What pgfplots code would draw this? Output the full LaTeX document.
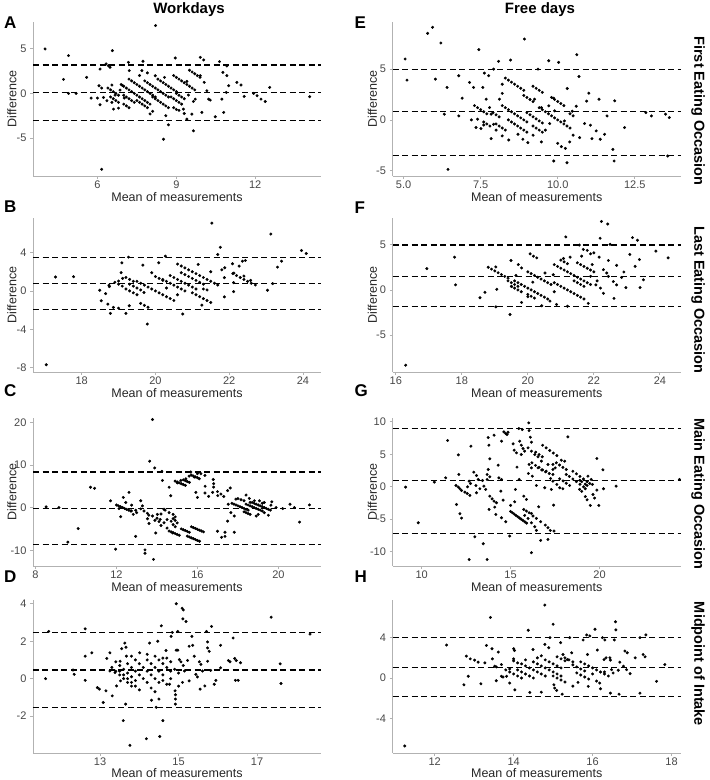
\documentclass[border=0pt]{standalone}
\usepackage{fontspec}
\setmainfont{Liberation Sans}
\usepackage{pgfplots}
\pgfplotsset{compat=1.18}

\newcommand\tickfont{\fontsize{11}{13}\selectfont}
\newcommand\labfont{\fontsize{12.5}{14}\selectfont}
\newcommand\titlefont{\fontsize{15}{17}\selectfont\bfseries}
\newcommand\tagfont{\fontsize{17}{19}\selectfont\bfseries}
\newcommand\stripfont{\fontsize{14.5}{16}\selectfont\bfseries}

\pgfplotsset{
  ba/.style={
    scale only axis, anchor=south west,
    axis x line*=bottom, axis y line*=left,
    axis line style={black!30, line width=0.8pt},
    every tick/.style={black!30, line width=0.8pt},
    major tick length=3pt, tick align=outside,
    ticklabel style={font=\tickfont, text=black!72},
    xticklabel style={yshift=2pt},
    /pgf/number format/assume math mode=true,
    xlabel={Mean of measurements},
    xlabel style={font=\labfont, text=black!85, at={(axis description cs:0.5,0)}, anchor=center, yshift=-21.5pt},
    ylabel style={font=\labfont, text=black!85, at={([xshift=-21pt]axis description cs:0,0.5)}, anchor=center},
  },
  right col/.style={ylabel style={at={([xshift=-20pt]axis description cs:0,0.5)}}},
  bottom row/.style={xlabel style={yshift=1pt}},
  pts/.style={only marks, mark=*, mark size=1.3pt, black},
  lim/.style={black, line width=1.1pt, dash pattern=on 6pt off 3.5pt},
}

\begin{document}
\begin{tikzpicture}[x=1pt,y=1pt]
\path[use as bounding box] (0,0) rectangle (710,780);

% ---------------- A: workdays, first eating occasion
\begin{axis}[ba, at={(33pt,604pt)}, width=288pt, height=154pt,
  xmin=3.55, xmax=14.5, ymin=-9.25, ymax=8.0,
  xtick={6,9,12}, ytick={-5,0,5}, ylabel={Difference}]
\addplot[lim] coordinates {(3.55,3.18) (14.5,3.18)};
\addplot[lim] coordinates {(3.55,0.11) (14.5,0.11)};
\addplot[lim] coordinates {(3.55,-3.0) (14.5,-3.0)};
\addplot[pts] coordinates {
(4.01,4.98)(4.90,4.23)(4.71,1.57)(4.90,0.0)(5.19,0.0)(5.59,1.80)(5.76,-0.52)(6.0,-0.52)
(6.10,2.73)(6.06,0.86)(6.10,-1.27)(6.16,0.60)(6.16,-8.50)(6.33,3.30)(6.48,2.92)(6.57,4.79)
(6.55,0.94)(6.42,3.1)(6.61,-1.76)(6.80,-1.65)(6.23,-0.45)(6.36,-0.82)(7.18,3.48)(7.21,2.55)
(7.73,3.60)(7.69,2.55)(8.21,7.60)(8.20,1.98)(8.55,1.80)(8.51,-5.13)(8.70,-3.52)(8.96,3.97)
(9.91,4.04)(10.04,3.75)(9.91,1.99)(10.06,1.24)(9.97,-2.13)(9.65,-4.19)(9.40,-2.88)(9.27,-1.76)
(9.30,-2.25)(9.59,-2.32)(9.72,-0.64)(9.65,-0.9)(10.23,-0.64)(10.29,-0.75)(10.48,-2.62)(10.80,-2.13)
(10.64,3.56)(10.77,2.36)(10.92,1.99)(10.99,0.86)(10.90,0.11)(10.73,-0.64)(10.92,3.07)(11.30,1.24)
(11.46,0.94)(11.58,-0.34)(11.94,0.0)(12.07,-0.26)(12.22,-0.64)(12.38,-0.90)(12.55,0.67)(14.07,-0.37)
(9.40,1.35)(9.46,-0.19)(10.16,0.30)(6.86,0.37)(7.02,-0.52)(6.67,-0.19)(6.55,-1.0)
(7.6,2.0)(7.9,2.3)(8.0,-2.3)(8.1,-2.0)(8.6,-2.5)(9.1,-1.9)(6.95,0.9)
(6.4,0.6)(6.5,0.4)(6.6,0.2)(6.7,0.0)(6.8,-0.2)
(6.5,-0.4)(6.6,-0.6)(6.7,-0.8)(6.8,-1.0)
(6.9,1.0)(7.0,0.8)(7.1,0.6)(7.2,0.4)(7.3,0.2)(7.4,0.0)
(7.0,-0.2)(7.1,-0.4)(7.2,-0.6)(7.3,-0.8)(7.4,-1.0)
(7.2,1.6)(7.3,1.4)(7.4,1.2)(7.5,1.0)(7.6,0.8)(7.7,0.6)(7.8,0.4)(7.9,0.2)(8.0,0.0)(8.1,-0.2)(8.2,-0.4)
(7.5,-0.2)(7.6,-0.4)(7.7,-0.6)(7.8,-0.8)(7.9,-1.0)(8.0,-1.2)
(7.5,-0.8)(7.6,-1.0)(7.7,-1.2)(7.8,-1.4)(7.9,-1.6)
(7.8,1.4)(7.9,1.2)(8.0,1.0)(8.1,0.8)(8.2,0.6)(8.3,0.4)(8.4,0.2)(8.5,0.0)(8.6,-0.2)(8.7,-0.4)
(8.1,-0.4)(8.2,-0.6)(8.3,-0.8)(8.4,-1.0)(8.5,-1.2)(8.6,-1.4)(8.7,-1.6)
(8.3,1.6)(8.4,1.4)(8.5,1.2)(8.6,1.0)(8.7,0.8)(8.8,0.6)(8.9,0.4)(9.0,0.2)
(8.8,-0.4)(8.9,-0.6)(9.0,-0.8)(9.1,-1.0)(9.2,-1.2)
(8.9,2.0)(9.0,1.8)(9.1,1.6)(9.2,1.4)(9.3,1.2)(9.4,1.0)(9.5,0.8)(9.6,0.6)(9.7,0.4)
(9.5,2.6)(9.6,2.4)(9.7,2.2)(9.8,2.0)(9.9,1.8)
(7.0,-1.2)(7.1,-1.4)(7.2,-1.6)(8.9,-1.6)(9.0,-1.8)
(9.0,0.0)(9.1,-0.2)(9.2,-0.4)(9.3,-0.6)
};
\end{axis}

% ---------------- E: free days, first eating occasion
\begin{axis}[ba, right col, at={(392.5pt,604pt)}, width=288.5pt, height=154pt,
  xmin=4.64, xmax=14.0, ymin=-5.5, ymax=9.6,
  xtick={5,7.5,10,12.5}, xticklabels={5.0,7.5,10.0,12.5}, ytick={-5,0,5},
  ylabel={Difference}]
\addplot[lim] coordinates {(4.64,4.98) (14.0,4.98)};
\addplot[lim] coordinates {(4.64,0.79) (14.0,0.79)};
\addplot[lim] coordinates {(4.64,-3.48) (14.0,-3.48)};
\addplot[pts] coordinates {
(5.05,5.97)(5.11,3.90)(5.78,8.49)(5.94,9.08)(6.21,7.54)(6.03,4.0)(6.32,0.56)(6.41,3.18)
(6.44,-4.85)(6.79,0.39)(6.79,4.33)(6.90,2.13)(7.14,3.67)(7.27,3.18)(7.44,6.89)(7.57,3.18)
(7.62,4.59)(7.76,4.33)(7.92,4.98)(8.08,5.74)(8.47,5.87)(8.92,7.93)(9.36,4.98)(9.71,5.80)
(10.03,5.64)(10.62,6.39)(10.69,4.26)(10.31,3.08)(11.01,2.62)(10.94,1.84)(11.34,2.03)(11.85,1.87)
(11.60,0.39)(12.17,-0.75)(12.86,0.72)(13.04,0.39)(13.50,0.56)(13.62,0.23)(13.57,-3.54)(11.79,-2.89)
(11.83,-4.03)(9.87,-4.03)(10.30,-4.2)(11.11,-1.84)(11.38,-1.90)(11.52,-1.41)(11.25,-1.08)(10.71,-1.74)
(10.87,-0.36)(11.06,-0.52)(10.6,1.34)(10.47,0.85)(10.0,-2.3)(10.12,-2.62)(10.25,-2.79)(10.39,-2.16)
(9.47,-2.16)(9.03,-2.23)(8.87,-1.90)(8.71,-1.41)(8.41,-1.97)(8.20,-1.57)(7.84,-1.84)(7.51,-0.85)
(7.35,-0.75)(7.40,0.07)(7.84,0.56)(7.92,-0.43)(7.79,1.21)(7.68,2.03)(8.11,2.03)(9.47,1.21)
(9.71,1.38)(9.90,0.89)(9.74,-0.36)(10.22,-0.1)(9.87,2.13)(9.25,2.03)(7.2,0.0)(7.6,-0.5)
(8.0,-1.0)(9.6,-1.0)(9.2,-1.5)(10.5,-1.5)(8.2,3.5)(8.2,2.6)
(8.3,4.1)(8.4,3.9)(8.5,3.7)(8.6,3.5)(8.7,3.3)(8.8,3.1)(8.9,2.9)
(9.2,3.3)(9.3,3.1)(9.4,2.9)(9.5,2.7)
(9.4,1.2)(9.5,1.0)(9.6,0.8)(9.7,0.6)(9.8,0.4)(9.9,0.2)(10.0,0.0)(10.1,-0.2)(10.2,-0.4)(10.3,-0.6)(10.4,-0.8)
(8.2,1.4)(8.3,1.2)(8.4,1.0)(8.5,0.8)(8.6,0.6)(8.7,0.4)(8.8,0.2)(8.9,0.0)(9.0,-0.2)
(7.3,1.4)(7.4,1.2)(7.5,1.0)(7.6,0.8)(7.7,0.6)
(8.4,0.0)(8.5,-0.2)(8.6,-0.4)(8.7,-0.6)(8.8,-0.8)(8.9,-1.0)(9.0,-1.2)
(7.9,0.7)(8.0,0.5)(8.1,0.3)
(9.0,0.7)(9.1,0.5)(9.2,0.3)(9.3,0.1)(9.4,-0.1)(9.5,-0.3)
(9.8,2.2)(9.9,2.0)(10.0,1.8)(10.1,1.6)(10.2,1.4)
(8.9,2.4)(9.0,2.2)(9.1,2.0)(9.2,1.8)
(8.0,-0.4)(8.1,-0.6)(8.2,-0.8)(8.3,-1.0)
(9.2,-0.6)(9.3,-0.8)(9.4,-1.0)(9.5,-1.2)
(7.6,-0.2)(7.7,-0.4)(7.8,-0.6)(10.4,0.6)(10.5,0.4)
};
\end{axis}

% ---------------- B: workdays, last eating occasion
\begin{axis}[ba, at={(33pt,408pt)}, width=288pt, height=154pt,
  xmin=16.68, xmax=24.49, ymin=-8.45, ymax=7.6,
  xtick={18,20,22,24}, ytick={-8,-4,0,4}, ylabel={Difference}]
\addplot[lim] coordinates {(16.68,3.45) (24.49,3.45)};
\addplot[lim] coordinates {(16.68,0.76) (24.49,0.76)};
\addplot[lim] coordinates {(16.68,-1.93) (24.49,-1.93)};
\addplot[pts] coordinates {
(17.04,-7.69)(17.29,1.45)(17.78,1.48)(18.49,0.07)(18.53,-1.03)(18.65,-0.28)(18.71,-1.38)(18.74,0.59)
(18.78,-2.34)(18.86,-1.72)(19.09,2.93)(19.07,1.90)(19.11,1.31)(19.0,1.03)(19.2,-2.34)(19.27,3.52)
(19.29,-1.55)(19.66,2.69)(19.69,-0.17)(19.78,-3.45)(20.09,2.93)(20.27,3.62)(20.74,-2.41)(21.16,2.76)
(21.26,-1.48)(21.53,7.07)(21.69,3.79)(21.76,4.55)(21.69,0.62)(21.87,1.38)(21.88,2.41)(21.87,-0.62)
(22.09,2.83)(22.12,0.86)(22.12,-0.07)(22.13,1.86)(22.27,2.59)(22.36,3.10)(22.44,3.17)(23.04,0.07)
(23.13,5.93)(23.18,0.76)(23.31,2.48)(23.42,3.10)(23.96,4.21)(24.09,3.90)(22.40,1.55)(22.58,1.10)
(22.71,0.62)(18.75,0.45)(19.0,-1.8)(21.5,2.0)(21.8,2.2)(21.3,0.2)(21.4,0.1)(20.3,0.3)(20.6,-0.4)(19.9,1.9)
(19.5,1.0)(19.6,0.8)(19.7,0.6)(19.8,0.4)(19.9,0.2)(20.0,0.0)(20.1,-0.2)(20.2,-0.4)(20.3,-0.6)(20.4,-0.8)(20.5,-1.0)
(19.2,1.4)(19.3,1.2)(19.4,1.0)
(19.2,0.2)(19.3,0.0)(19.4,-0.2)(19.5,-0.4)
(19.3,0.7)(19.4,0.5)(19.5,0.3)(19.6,0.1)
(19.6,-1.3)(19.7,-1.5)(19.8,-1.7)
(20.2,1.2)(20.3,1.0)(20.4,0.8)(20.5,0.6)(20.6,0.4)(20.7,0.2)(20.8,0.0)
(20.4,1.6)(20.5,1.4)(20.6,1.2)(20.7,1.0)(20.8,0.8)(20.9,0.6)(21.0,0.4)(21.1,0.2)
(20.6,2.8)(20.7,2.6)(20.8,2.4)(20.9,2.2)(21.0,2.0)(21.1,1.8)(21.2,1.6)(21.3,1.4)(21.4,1.2)(21.5,1.0)(21.6,0.8)
(20.7,1.9)(20.8,1.7)(20.9,1.5)(21.0,1.3)(21.1,1.1)(21.2,0.9)(21.3,0.7)
(21.0,-0.2)(21.1,-0.4)(21.2,-0.6)(21.3,-0.8)(21.4,-1.0)(21.5,-1.2)
(22.1,1.8)(22.2,1.6)(22.3,1.4)(22.4,1.2)(22.5,1.0)(22.6,0.8)
(20.0,1.5)(20.1,1.3)(20.2,1.1)(18.9,0.9)(19.0,0.7)(19.1,0.5)
};
\end{axis}

% ---------------- F: free days, last eating occasion
\begin{axis}[ba, right col, at={(392.5pt,408pt)}, width=288.5pt, height=154pt,
  xmin=15.9, xmax=24.64, ymin=-9.07, ymax=7.95,
  xtick={16,18,20,22,24}, ytick={-5,0,5},
  ylabel={Difference}]
\addplot[lim] coordinates {(15.9,4.96) (24.64,4.96)};
\addplot[lim] coordinates {(15.9,1.49) (24.64,1.49)};
\addplot[lim] coordinates {(15.9,-1.87) (24.64,-1.87)};
\addplot[pts] coordinates {
(16.30,-8.32)(16.94,2.35)(17.78,3.62)(17.81,0.56)(18.55,-0.86)(18.70,-0.26)(19.03,2.54)(19.06,0.07)
(19.03,-1.87)(19.46,-2.72)(19.49,3.25)(19.51,0.37)(19.71,2.80)(19.81,2.43)(19.64,1.60)(19.81,-1.38)
(20.0,-0.75)(20.07,3.99)(20.17,3.73)(20.27,3.54)(20.15,0.86)(20.42,-1.75)(20.52,1.87)(20.67,-1.23)
(20.77,1.68)(20.87,-1.60)(21.08,3.47)(21.15,5.86)(21.28,3.62)(21.56,4.96)(21.63,3.73)(21.68,4.48)
(21.80,4.37)(21.83,-1.49)(21.90,3.99)(21.95,2.80)(22.0,4.10)(22.06,0.56)(22.16,3.62)(22.19,5.71)
(22.23,7.57)(22.42,7.28)(22.44,3.25)(22.29,-0.37)(22.49,5.04)(22.61,-0.93)(22.69,2.72)(22.84,1.38)
(22.91,1.98)(22.97,0.26)(23.09,3.92)(23.17,5.78)(23.25,2.61)(23.32,5.49)(23.38,3.36)(23.40,0.26)
(23.50,1.12)(23.88,4.29)(24.25,3.54)(22.44,1.49)(22.59,0.93)(22.69,0.56)(22.29,2.24)(22.39,1.87)
(22.1,1.0)(22.2,0.2)(21.9,1.5)(21.2,-1.8)(20.8,-0.2)
(18.8,2.5)(18.9,2.3)(19.0,2.1)(19.1,1.9)(19.2,1.7)(19.3,1.5)(19.4,1.3)
(19.6,1.0)(19.7,0.8)(19.8,0.6)(19.9,0.4)(20.0,0.2)(20.1,0.0)(20.2,-0.2)(20.3,-0.4)(20.4,-0.6)(20.5,-0.8)(20.6,-1.0)
(20.0,2.0)(20.1,1.8)(20.2,1.6)(20.3,1.4)(20.4,1.2)(20.5,1.0)(20.6,0.8)(20.7,0.6)
(20.8,0.8)(20.9,0.6)(21.0,0.4)(21.1,0.2)(21.2,0.0)(21.3,-0.2)(21.4,-0.4)(21.5,-0.6)(21.6,-0.8)(21.7,-1.0)
(20.8,2.8)(20.9,2.6)(21.0,2.4)(21.1,2.2)(21.2,2.0)(21.3,1.8)(21.4,1.6)(21.5,1.4)
(21.0,3.3)(21.1,3.1)(21.2,2.9)(21.4,1.0)(21.5,0.8)(21.6,0.6)(21.7,0.4)
(21.5,3.0)(21.6,2.8)(21.7,2.6)(21.8,2.4)(21.9,2.2)(22.0,2.0)
(19.4,1.0)(19.5,0.8)(19.6,0.6)(19.7,0.4)
(19.5,0.4)(19.6,0.2)(19.7,0.0)(19.8,-0.2)
(20.0,-0.5)(20.1,-0.7)(20.2,-0.9)
(21.6,1.2)(21.7,1.0)(21.8,0.8)(21.9,0.6)
};
\end{axis}

% ---------------- C: workdays, main eating occasion
\begin{axis}[ba, at={(33pt,214pt)}, width=288pt, height=148pt,
  xmin=7.88, xmax=22.1, ymin=-13.7, ymax=21.0,
  xtick={8,12,16,20}, ytick={-10,0,10,20}, ylabel={Difference}]
\addplot[lim] coordinates {(7.88,8.33) (22.1,8.33)};
\addplot[lim] coordinates {(7.88,-0.24) (22.1,-0.24)};
\addplot[lim] coordinates {(7.88,-8.57) (22.1,-8.57)};
\addplot[pts] coordinates {
(8.53,0.16)(9.16,0.0)(9.60,-8.1)(10.11,-4.92)(10.72,4.76)(10.92,4.52)(11.71,1.59)(11.96,-9.76)
(12.13,-0.24)(12.21,-2.14)(12.34,2.38)(12.46,1.19)(12.62,3.57)(12.75,0.56)(12.74,-0.79)(12.83,-1.59)
(12.95,-6.75)(12.95,-0.63)(13.20,1.59)(13.28,0.40)(13.41,-9.92)(13.41,-10.7)(13.53,-2.62)(13.61,-3.73)
(13.64,10.87)(13.78,20.63)(13.83,-12.14)(13.89,9.29)(13.94,-5.95)(14.24,8.49)(14.27,6.35)(14.35,-0.4)
(14.60,4.76)(14.68,2.78)(14.77,-5.95)(15.01,5.79)(15.18,6.35)(15.43,6.75)(15.59,7.38)(15.67,8.33)
(15.84,7.14)(16.0,7.94)(16.09,6.75)(15.92,3.57)(16.0,2.38)(16.17,7.94)(16.37,7.54)(16.38,5.0)
(16.37,3.41)(16.55,2.62)(16.75,3.57)(16.78,6.59)(16.99,3.73)(17.16,3.17)(16.99,-5.56)(17.19,-6.98)
(17.36,-5.79)(17.36,-6.75)(17.49,-3.17)(17.49,3.97)(17.62,4.6)(17.52,0.79)(17.82,-5.79)(17.90,1.98)
(18.15,1.83)(18.40,2.94)(18.56,2.14)(18.81,1.59)(19.06,1.59)(19.30,1.19)(19.67,1.35)(19.88,0.0)
(20.21,-0.24)(20.57,0.79)(20.79,0.0)(21.53,0.63)(21.04,-3.41)(19.63,0.56)(17.65,-1.19)(17.82,-1.98)
(16.8,4.8)(16.8,5.6)(17.0,2.8)(17.3,2.6)
(13.36,-0.8)(13.53,-1.35)(13.78,-1.98)(14.02,-1.59)(14.16,-2.78)(14.35,-3.57)(13.6,-1.8)(14.0,-2.5)
(14.2,-1.5)(14.5,-2.8)(14.6,-1.2)(14.9,-2.2)(14.9,-3.0)(14.8,-1.6)(15.0,-3.6)(14.8,-4.0)(14.9,-4.5)
(14.5,-4.8)(14.7,-3.2)(14.8,-2.6)(14.2,-4.2)(13.9,-3.0)(13.2,-0.3)(13.0,-1.2)(14.4,-0.6)(14.1,-3.3)
(12.0,0.6)(12.1,0.4)(12.2,0.2)(12.3,0.0)(12.4,-0.2)(12.5,-0.4)(12.6,-0.6)(12.7,-0.8)
(14.6,-5.5)(14.7,-5.7)(14.8,-5.9)(14.9,-6.1)(15.0,-6.3)(15.1,-6.5)
(15.2,-5.0)(15.3,-5.2)(15.4,-5.4)(15.5,-5.6)(15.6,-5.8)
(15.5,-6.7)(15.6,-6.9)(15.7,-7.1)(15.8,-7.3)(15.9,-7.5)(16.0,-7.7)(16.1,-7.9)
(15.7,-4.5)(15.8,-4.7)(15.9,-4.9)(16.0,-5.1)(16.1,-5.3)(16.2,-5.5)(16.3,-5.7)
(14.9,6.2)(15.0,6.0)(15.1,5.8)(15.2,5.6)(15.3,5.4)(15.4,5.2)
(15.3,6.5)(15.4,6.3)(15.5,6.1)(15.6,5.9)
(15.7,7.6)(15.8,7.4)(15.9,7.2)(16.0,7.0)
(17.7,1.0)(17.8,0.8)(17.9,0.6)(18.0,0.4)(18.1,0.2)(18.2,0.0)(18.3,-0.2)(18.4,-0.4)(18.5,-0.6)
(18.4,0.8)(18.5,0.6)(18.6,0.4)(18.7,0.2)(18.8,0.0)(18.9,-0.2)(19.0,-0.4)(19.1,-0.6)(19.2,-0.8)
(18.7,1.2)(18.8,1.0)(18.9,0.8)(19.0,0.6)(19.1,0.4)(19.2,0.2)(19.3,0.0)(19.4,-0.2)(19.5,-0.4)(19.6,-0.6)
(18.3,-1.0)(18.4,-1.2)(18.5,-1.4)(18.6,-1.6)(18.9,-2.0)(19.0,-1.6)(19.3,-1.2)(19.5,-1.8)
(18.0,2.1)(18.3,1.6)(18.6,1.2)(19.2,1.0)
};
\end{axis}

% ---------------- G: free days, main eating occasion
\begin{axis}[ba, right col, at={(392.5pt,214pt)}, width=288.5pt, height=148pt,
  xmin=8.36, xmax=24.58, ymin=-12.2, ymax=10.6,
  xtick={10,15,20}, ytick={-10,-5,0,5,10},
  ylabel={Difference}]
\addplot[lim] coordinates {(8.36,8.97) (24.58,8.97)};
\addplot[lim] coordinates {(8.36,0.97) (24.58,0.97)};
\addplot[lim] coordinates {(8.36,-7.23) (24.58,-7.23)};
\addplot[pts] coordinates {
(9.10,-0.05)(9.81,-5.54)(10.71,0.72)(11.35,1.38)(11.46,7.13)(11.96,-2.72)(12.06,4.92)(12.09,1.90)
(12.15,-4.15)(12.24,-4.82)(11.93,0.2)(12.06,-0.05)(12.15,-0.3)(12.24,-0.56)(12.43,-0.82)(12.56,-1.03)
(12.58,0.0)(12.67,0.87)(12.75,0.5)(12.71,-1.33)(12.77,6.26)(12.67,-11.2)(12.93,2.26)(12.99,-7.7)
(13.08,1.74)(13.18,1.13)(13.05,0.2)(13.27,-0.3)(13.08,-0.92)(13.46,-8.77)(13.42,0.97)(13.5,0.1)
(13.6,-0.4)(13.68,1.13)(13.74,7.59)(13.68,-11.2)(13.78,6.41)(13.74,2.67)(13.83,4.31)(13.68,1.9)
(13.83,1.54)(13.83,-1.44)(13.96,-1.85)(14.07,-2.21)(14.21,-2.46)(13.79,-3.49)(14.07,7.95)(14.11,-3.13)
(14.17,-4.26)(14.3,3.33)(14.34,1.38)(14.49,1.13)(14.49,7.03)(14.62,8.46)(14.73,8.21)(14.8,8.05)
(14.86,8.41)(14.45,-0.67)(14.58,-2.05)(14.49,-4.77)(14.73,-5.38)(14.95,-7.59)(15.0,-2.87)(15.23,-2.31)
(15.27,-0.41)(15.36,3.03)(15.14,6.62)(15.2,5.64)(15.33,5.23)(15.46,8.97)(15.48,1.13)
(15.51,7.03)(15.6,6.41)(15.7,5.9)(15.79,5.49)(15.66,8.82)(15.6,4.97)(15.74,-1.44)(15.89,-1.95)
(16.02,9.85)(16.04,8.67)(16.11,7.64)(16.17,6.87)(16.04,3.44)(16.17,2.92)(16.0,2.05)(16.22,1.64)
(15.74,-3.49)(15.89,-3.74)(16.04,-4.0)
(15.0,-3.8)(15.1,-4.0)(15.2,-4.2)(15.3,-4.4)(15.4,-4.6)(15.5,-4.8)(15.6,-5.0)(15.7,-5.2)(15.8,-5.4)(15.9,-5.6)
(15.79,-4.41)(15.98,-4.87)(16.17,-5.54)(16.36,-6.15)(16.45,-6.72)
(16.17,-4.1)(16.26,-4.5)(16.45,-4.87)(16.69,-5.38)(16.95,-5.9)(17.1,-6.3)(17.23,-6.72)(17.44,-6.82)
(16.58,-3.08)(16.69,-8.26)(17.1,-8.1)(16.17,-10.15)(17.42,-2.82)(16.92,-0.15)(16.45,0.2)
(15.98,6.0)(16.17,5.49)(16.36,4.97)(16.54,4.62)(16.41,5.33)(16.6,4.97)(16.78,4.62)
(16.8,6.4)(17.0,6.0)(17.2,5.6)(17.4,5.2)(17.6,4.8)
(16.2,3.7)(16.4,3.3)(16.6,3.0)(16.8,2.6)(17.0,2.4)
(16.54,2.92)(16.75,2.6)(16.96,2.3)(17.17,2.05)(17.38,1.9)
(16.73,3.95)(17.1,3.44)(17.38,2.67)
(17.57,3.7)(17.75,3.35)(17.94,3.0)(18.13,2.67)(17.85,4.1)(18.04,3.95)
(18.13,1.9)(18.3,1.6)(18.5,1.2)(18.7,0.8)(18.9,0.4)(19.1,0.0)(19.2,-0.3)
(18.5,2.4)(18.7,2.0)(18.9,1.6)(19.1,1.2)(19.3,0.8)(19.45,0.5)(19.6,0.36)
(18.9,1.0)(19.0,0.8)(19.2,0.4)(19.3,0.2)
(17.76,1.23)(17.95,0.9)(18.13,0.55)(18.32,0.2)(17.76,-0.15)(17.94,-0.3)
(18.88,-0.4)(19.0,-0.7)(19.2,-1.5)(19.3,-2.0)(19.48,-2.87)
(18.22,7.69)(19.85,4.36)(20.19,2.62)(20.22,-0.3)(19.96,-2.87)(19.85,-0.5)(20.93,0.1)(24.49,1.13)
(19.35,1.64)(19.53,1.13)(19.63,-1.18)(19.72,-1.74)(17.38,3.44)(17.51,2.92)(17.25,1.28)(17.38,0.87)
(17.29,-0.41)(17.6,0.36)
};
\end{axis}

% ---------------- D: workdays, midpoint of intake
\begin{axis}[ba, bottom row, at={(33pt,27pt)}, width=288pt, height=153pt,
  xmin=11.29, xmax=18.63, ymin=-3.97, ymax=4.2,
  xtick={13,15,17}, ytick={-2,0,2,4}]
\addplot[lim] coordinates {(11.29,2.47) (18.63,2.47)};
\addplot[lim] coordinates {(11.29,0.46) (18.63,0.46)};
\addplot[lim] coordinates {(11.29,-1.53) (18.63,-1.53)};
\addplot[pts] coordinates {
(11.61,0.0)(11.69,2.52)(12.31,0.46)(12.34,0.23)(12.62,2.66)(12.62,1.2)(12.62,-0.09)(12.79,1.38)
(12.93,-0.48)(12.98,-0.56)(13.08,-1.27)(13.15,-0.65)(13.17,1.08)(13.25,1.38)(13.25,0.41)(13.31,-0.92)
(13.38,0.32)(13.42,-0.39)(13.51,0.93)(13.52,-0.12)(13.55,1.6)(13.59,-2.24)(13.63,1.9)(13.65,-1.36)
(13.66,1.68)(13.67,1.2)(13.76,-3.56)(14.01,1.38)(14.18,-3.21)(14.26,1.9)(14.31,-1.15)(14.43,-1.53)
(14.47,2.0)(14.5,-1.09)(14.52,-3.09)(14.56,2.82)(14.6,-2.24)(14.68,1.5)(14.77,-0.3)(14.81,2.26)
(14.84,2.47)(14.91,-0.65)(14.92,-0.86)(14.92,-1.09)(14.92,-1.36)(14.94,4.0)(14.98,2.52)(14.94,1.52)
(14.98,1.52)(15.02,1.02)(15.09,3.76)(15.12,3.67)(15.11,3.19)(15.19,3.05)(15.06,0.9)(15.12,0.7)
(15.15,0.41)(15.23,0.97)(15.27,-0.12)(15.27,1.73)(15.34,2.26)(15.36,1.78)(15.4,1.2)(15.44,0.23)
(15.48,0.09)(15.53,0.9)(15.57,0.76)(15.55,-0.56)(15.61,0.41)(15.67,-0.39)(15.71,2.52)(15.74,0.93)
(15.74,1.96)(15.74,1.64)(15.78,1.46)(15.84,2.79)(15.82,0.44)(15.91,-0.3)(15.95,-0.09)(16.07,1.78)
(16.07,0.58)(16.27,0.97)(16.31,0.9)(16.39,2.17)(16.43,1.08)(16.47,0.97)(16.45,-0.09)(16.52,-0.09)
(16.58,0.85)(17.36,3.28)(17.59,0.79)(17.61,-0.26)(18.35,2.38)
(13.4,0.9)(13.5,0.7)(13.6,0.5)(13.7,0.3)(13.8,0.1)(13.9,-0.1)
(13.5,0.4)(13.6,0.2)(13.7,0.0)(13.8,-0.2)(13.9,-0.4)
(13.7,0.8)(13.8,0.6)(13.9,0.4)(14.0,0.2)(14.1,0.0)(14.2,-0.2)
(14.0,0.8)(14.1,0.6)(14.2,0.4)(14.3,0.2)(14.4,0.0)(14.5,-0.2)
(14.2,1.0)(14.3,0.8)(14.4,0.6)(14.5,0.4)(14.6,0.2)
(14.4,1.2)(14.5,1.0)(14.6,0.8)(14.7,0.6)(14.8,0.4)
(14.3,-0.5)(14.4,-0.7)(14.6,-0.1)(14.7,-0.3)(14.8,0.0)
(13.3,0.6)(13.4,0.4)(13.5,0.2)(13.6,0.0)(13.7,-0.2)(13.8,-0.4)
(13.8,1.2)(13.9,1.0)(14.0,-0.6)(14.2,1.3)(14.6,1.1)
(14.7,1.1)(14.8,0.9)(14.9,0.5)(15.0,0.3)(15.0,-0.4)(15.1,-0.2)
};
\end{axis}

% ---------------- H: free days, midpoint of intake
\begin{axis}[ba, bottom row, at={(392.5pt,27pt)}, width=288.5pt, height=153pt,
  xmin=10.93, xmax=18.24, ymin=-7.43, ymax=7.73,
  xtick={12,14,16,18}, ytick={-4,0,4}]
\addplot[lim] coordinates {(10.93,4.0) (18.24,4.0)};
\addplot[lim] coordinates {(10.93,1.07) (18.24,1.07)};
\addplot[lim] coordinates {(10.93,-1.83) (18.24,-1.83)};
\addplot[pts] coordinates {
(11.24,-6.73)(12.3,3.27)(12.74,-0.67)(12.8,2.17)(12.85,0.17)(12.9,1.9)(13.01,1.77)(13.1,1.57)
(13.17,-0.57)(13.27,1.5)(13.31,3.23)(13.41,6.0)(13.45,2.9)(13.46,1.9)(13.52,1.17)(13.56,1.1)
(13.56,-0.27)(13.61,2.57)(13.69,0.17)(13.73,0.1)(13.69,1.33)(13.82,0.17)(14.0,2.9)(14.02,2.73)
(13.9,-0.5)(14.0,1.9)(14.03,-1.17)(14.37,4.73)(14.41,-1.43)(14.49,2.83)(14.79,3.33)(14.79,7.23)
(14.89,3.0)(14.92,4.0)(15.0,5.33)(15.02,-0.67)(15.04,-1.0)(15.09,-1.23)(15.19,3.5)(15.23,-1.6)
(15.25,2.33)(15.36,1.83)(15.42,4.0)(15.47,2.5)(15.63,-0.43)(15.76,3.77)(15.85,4.27)(15.87,2.33)
(15.93,4.17)(15.89,-0.83)(16.06,4.83)(16.12,2.77)(16.18,-0.5)(16.2,-1.07)(16.25,4.0)(16.29,1.83)
(16.34,2.0)(16.31,3.77)(16.44,2.0)(16.45,1.77)(16.45,-1.5)(16.55,3.77)(16.58,5.57)(16.59,4.77)
(16.65,0.77)(16.67,-1.6)(16.82,2.67)(16.88,2.5)(16.95,0.43)(17.08,2.0)(17.2,4.0)(17.2,-1.5)
(17.28,2.33)(17.33,2.1)(17.35,4.27)(17.62,-0.33)(17.83,1.33)(16.69,1.57)(16.78,1.17)(16.86,0.83)
(16.48,0.83)(16.52,0.5)(13.9,0.9)(14.7,-1.4)(15.5,-0.8)(16.0,0.4)(16.3,0.6)(16.1,-0.3)
(14.2,1.4)(14.3,1.2)(14.4,1.0)(14.5,0.8)(14.6,0.6)(14.7,0.4)(14.8,0.2)
(14.1,0.8)(14.2,0.6)(14.3,0.4)(14.4,0.2)(14.5,0.0)
(14.5,1.6)(14.6,1.4)(14.7,1.2)(14.8,1.0)(14.9,0.8)(15.0,0.6)(15.1,0.4)(15.2,0.2)
(14.8,1.8)(14.9,1.6)(15.0,1.4)(15.1,1.2)(15.2,1.0)
(13.8,0.8)(13.9,0.6)(14.0,0.4)(14.1,0.2)(14.2,0.0)
(15.0,0.2)(15.1,0.0)(15.2,-0.2)(15.3,-0.4)
(15.5,1.3)(15.6,1.1)(15.7,0.9)(15.8,0.7)
(15.3,2.0)(15.4,1.8)(15.5,1.6)
(15.7,1.6)(15.8,1.4)(15.9,1.2)(16.0,1.0)
(15.6,0.5)(15.7,0.3)(15.8,0.1)(15.9,-0.1)
(16.1,0.8)(16.2,0.6)(16.3,0.4)(16.4,0.2)
(15.1,2.1)(15.2,1.9)(15.3,1.7)(14.0,1.7)(14.1,1.5)
(14.6,2.0)(14.7,2.2)(14.3,1.8)
};
\end{axis}

% titles, tags and strip labels
\node[font=\titlefont, anchor=base] at (189,766.5) {Workdays};
\node[font=\titlefont, anchor=base] at (540,766.5) {Free days};
\node[font=\tagfont, anchor=base west] at (0.5,751) {A};
\node[font=\tagfont, anchor=base west] at (0.5,567) {B};
\node[font=\tagfont, anchor=base west] at (0.5,383) {C};
\node[font=\tagfont, anchor=base west] at (0.5,197) {D};
\node[font=\tagfont, anchor=base west] at (351,751.5) {E};
\node[font=\tagfont, anchor=base west] at (351,566) {F};
\node[font=\tagfont, anchor=base west] at (351,383) {G};
\node[font=\tagfont, anchor=base west] at (351,197) {H};
\node[font=\stripfont, rotate=-90] at (698,669) {First Eating Occasion};
\node[font=\stripfont, rotate=-90] at (698,480) {Last Eating Occasion};
\node[font=\stripfont, rotate=-90] at (698,286) {Main Eating Occasion};
\node[font=\stripfont, rotate=-90] at (698,116) {Midpoint of Intake};
\end{tikzpicture}
\end{document}
